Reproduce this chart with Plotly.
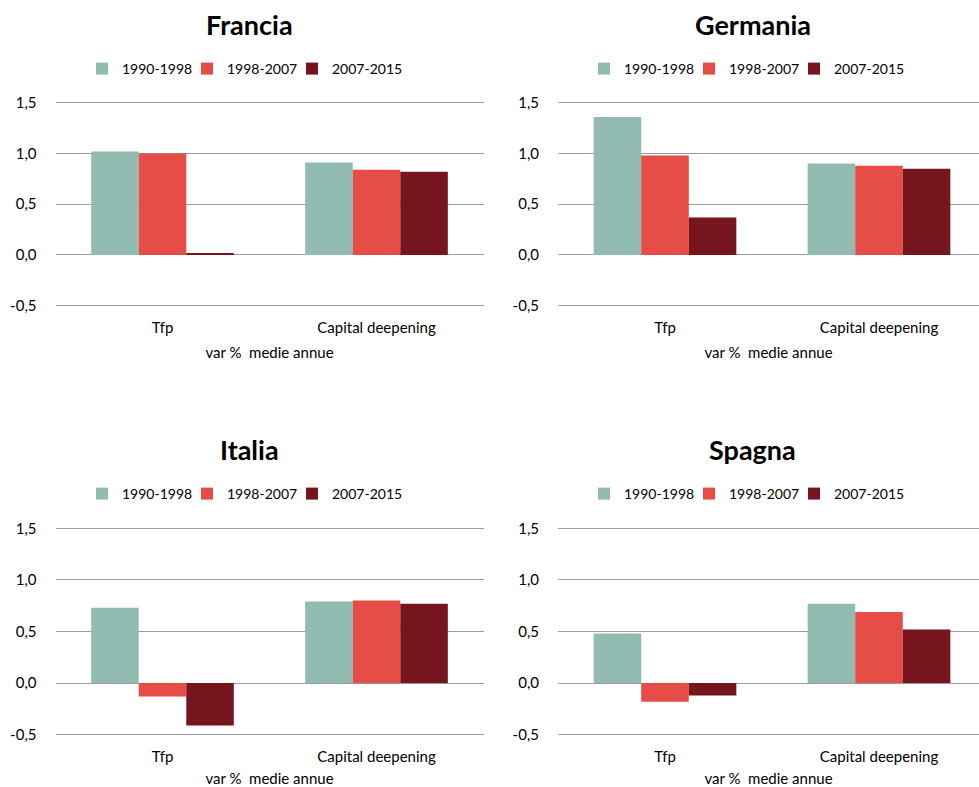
import plotly.graph_objects as go

# ---- data ----
categories = ["Tfp", "Capital deepening"]
periods = ["1990-1998", "1998-2007", "2007-2015"]
countries = ["Francia", "Germania", "Italia", "Spagna"]

francia_1990_1998 = [1.02, 0.91]
francia_1998_2007 = [1.00, 0.84]
francia_2007_2015 = [0.02, 0.82]

germania_1990_1998 = [1.36, 0.90]
germania_1998_2007 = [0.98, 0.88]
germania_2007_2015 = [0.37, 0.85]

italia_1990_1998 = [0.73, 0.79]
italia_1998_2007 = [-0.13, 0.80]
italia_2007_2015 = [-0.41, 0.77]

spagna_1990_1998 = [0.48, 0.77]
spagna_1998_2007 = [-0.18, 0.69]
spagna_2007_2015 = [-0.12, 0.52]

y_tick_values = [-0.5, 0.0, 0.5, 1.0, 1.5]
y_tick_labels = ["-0,5", "0,0", "0,5", "1,0", "1,5"]
x_title = "var %\u00a0 medie annue"

series = {
    "Francia": [francia_1990_1998, francia_1998_2007, francia_2007_2015],
    "Germania": [germania_1990_1998, germania_1998_2007, germania_2007_2015],
    "Italia": [italia_1990_1998, italia_1998_2007, italia_2007_2015],
    "Spagna": [spagna_1990_1998, spagna_1998_2007, spagna_2007_2015],
}

# ---- styling ----
W, H = 979, 787
colors = ["#92BBB1", "#E64D46", "#76151E"]
FONT = "Lato, 'Open Sans', sans-serif"
grid_color = "#9C9C9C"
Y_MIN, Y_MAX, PAD = -0.5, 1.5, 0.03

panels = {
    "Francia": dict(x0=55.5, x1=483.5, yt=102.7, yb=305.7, rend=1.5, tx=250, lx=82, ty=24, ly=69),
    "Germania": dict(x0=558, x1=979, yt=102.7, yb=305.7, rend=-0.5 + 421 / 214, tx=752.5, lx=584, ty=24, ly=69),
    "Italia": dict(x0=55.5, x1=483.5, yt=528.3, yb=734.7, rend=1.5, tx=250, lx=82, ty=449.5, ly=494),
    "Spagna": dict(x0=558, x1=979, yt=528.3, yb=734.7, rend=-0.5 + 421 / 214, tx=752.5, lx=584, ty=449.5, ly=494),
}

fig = go.Figure()
layout = dict(
    width=W, height=H,
    margin=dict(l=0, r=0, t=0, b=0, autoexpand=False),
    paper_bgcolor="white", plot_bgcolor="white",
    font=dict(family=FONT, size=15, color="#000000"),
    barmode="group", bargap=1 / 3, bargroupgap=0,
    annotations=[],
)

for i, c in enumerate(countries):
    p = panels[c]
    n = "" if i == 0 else str(i + 1)
    xa, ya = "x" + n, "y" + n
    leg = "legend" + n
    ppu = (p["yb"] - p["yt"]) / (Y_MAX - Y_MIN)
    yt = p["yt"] - PAD * ppu
    yb = p["yb"] + PAD * ppu
    for k, per in enumerate(periods):
        fig.add_trace(go.Bar(
            x=categories, y=series[c][k], name=per,
            marker=dict(color=colors[k], line=dict(width=0)),
            xaxis=xa, yaxis=ya, legend=leg, offsetgroup=str(k),
            legendwidth=(80 if k == len(periods) - 1 else 60),
            hoverinfo="x+y+name",
        ))
    layout["xaxis" + n] = dict(
        domain=[p["x0"] / W, p["x1"] / W], anchor=ya, type="category",
        range=[-0.5, p["rend"]], showgrid=False, showline=False, zeroline=False,
        ticks="outside", ticklen=8 - PAD * ppu, tickcolor="rgba(0,0,0,0)",
        tickfont=dict(size=15, family=FONT, color="#000"),
        title=dict(text=x_title, font=dict(size=15, family=FONT, color="#000"), standoff=12),
        automargin=False, fixedrange=True,
    )
    layout["yaxis" + n] = dict(
        domain=[1 - yb / H, 1 - yt / H], anchor=xa,
        range=[Y_MIN - PAD, Y_MAX + PAD], tickvals=y_tick_values, ticktext=y_tick_labels,
        showgrid=True, gridcolor=grid_color, gridwidth=1, zeroline=False, showline=False,
        ticks="outside", ticklen=15, tickcolor="rgba(0,0,0,0)",
        tickfont=dict(size=15, family=FONT, color="#000"),
        automargin=False, fixedrange=True,
    )
    layout[leg] = dict(
        orientation="h", x=p["lx"] / W, xanchor="left",
        y=1 - p["ly"] / H, yanchor="middle",
        entrywidth=60, entrywidthmode="pixels",
        font=dict(size=14, family=FONT, color="#000"),
        bgcolor="rgba(0,0,0,0)", traceorder="normal",
    )
    layout["annotations"].append(dict(
        text="<b>" + c + "</b>", x=p["tx"] / W, y=1 - p["ty"] / H,
        xref="paper", yref="paper", xanchor="center", yanchor="middle",
        showarrow=False, font=dict(size=27, family=FONT, color="#000"),
    ))

fig.update_layout(**layout)
fig.write_html("out.html")
